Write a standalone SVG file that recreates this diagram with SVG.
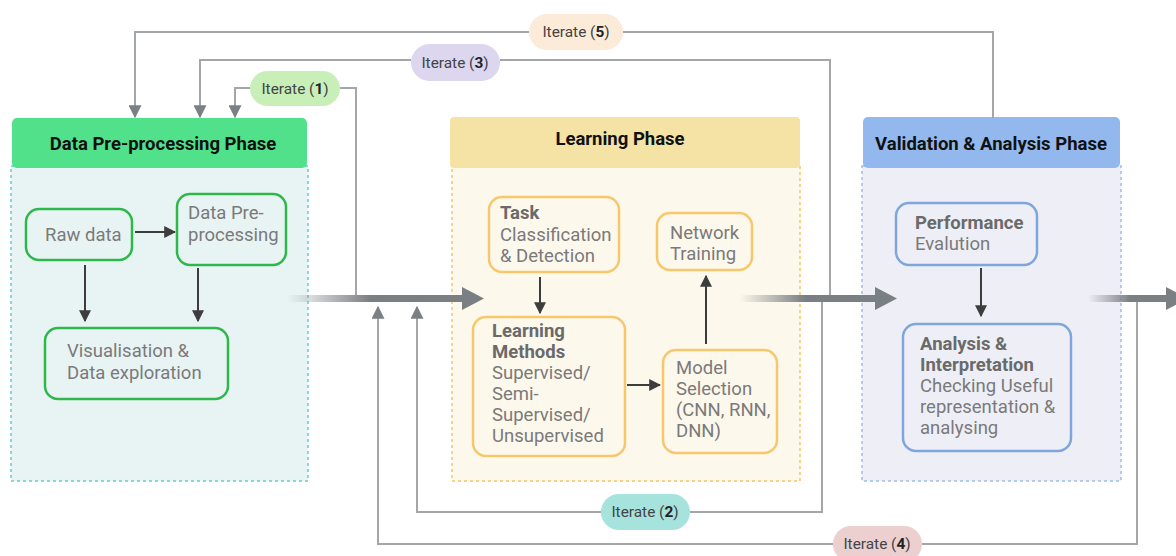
<svg xmlns="http://www.w3.org/2000/svg" width="1176" height="556" viewBox="0 0 1176 556">
  <style>
    text { font-family: Roboto, "Liberation Sans", sans-serif; }
    .head { font-size: 18.5px; font-weight: bold; fill: #111; text-anchor: middle; }
    .node text { font-size: 18.5px; fill: #7a7a7a; }
    .node .b { font-weight: bold; fill: #6a6a6a; }
    .gnode { fill: none; stroke: #2eb84c; stroke-width: 2.5; }
    .onode { fill: none; stroke: #f7c76e; stroke-width: 2.5; }
    .bnode { fill: none; stroke: #7fa6dc; stroke-width: 2.5; }
    .inner { stroke: #3d3d3d; stroke-width: 2; fill: none; marker-end: url(#dark); }
    .loop { stroke: #a3a7aa; stroke-width: 2; fill: none; }
    .loopA { stroke: #a3a7aa; stroke-width: 2; fill: none; marker-end: url(#grey); }
    .pill text { font-size: 15.4px; fill: #444; text-anchor: middle; }
    .pill .n { font-weight: bold; fill: #222; }
    .body { stroke-width: 1.5; stroke-dasharray: 3 3; }
  </style>
  <defs>
    <marker id="dark" viewBox="0 0 10 10" refX="9" refY="5" markerWidth="12" markerHeight="12" markerUnits="userSpaceOnUse" orient="auto">
      <path d="M0,0 L10,5 L0,10 z" fill="#3d3d3d"/>
    </marker>
    <marker id="grey" viewBox="0 0 10 10" refX="9" refY="5" markerWidth="13" markerHeight="13" markerUnits="userSpaceOnUse" orient="auto">
      <path d="M0,0 L10,5 L0,10 z" fill="#7b8085"/>
    </marker>
    <linearGradient id="fade1" gradientUnits="userSpaceOnUse" x1="287" y1="0" x2="370" y2="0">
      <stop offset="0" stop-color="#7a7f83" stop-opacity="0"/>
      <stop offset="1" stop-color="#7a7f83"/>
    </linearGradient>
    <linearGradient id="fade2" gradientUnits="userSpaceOnUse" x1="740" y1="0" x2="805" y2="0">
      <stop offset="0" stop-color="#7a7f83" stop-opacity="0"/>
      <stop offset="1" stop-color="#7a7f83"/>
    </linearGradient>
    <linearGradient id="fade3" gradientUnits="userSpaceOnUse" x1="1088" y1="0" x2="1130" y2="0">
      <stop offset="0" stop-color="#7a7f83" stop-opacity="0"/>
      <stop offset="1" stop-color="#7a7f83"/>
    </linearGradient>
  </defs>

  <rect width="1176" height="556" fill="#ffffff"/>

  <!-- Phase panels -->
  <g id="phase-data">
    <rect class="body" x="11" y="166" width="297" height="315" fill="#e8f4f3" stroke="#5fcfd0"/>
    <rect x="12" y="118" width="295" height="50" rx="5" fill="#50e18a"/>
    <text class="head" x="163" y="150">Data Pre-processing Phase</text>
  </g>
  <g id="phase-learning">
    <rect class="body" x="452" y="166" width="348" height="315" fill="#fdf8ec" stroke="#f9c46b"/>
    <rect x="450" y="117" width="350" height="51" rx="4" fill="#f5e3a6"/>
    <text class="head" x="620" y="145">Learning Phase</text>
  </g>
  <g id="phase-validation">
    <rect class="body" x="862" y="166" width="259" height="315" fill="#eeeff6" stroke="#a3bde8"/>
    <rect x="863" y="117" width="257" height="51" rx="5" fill="#93b8ee"/>
    <text class="head" x="991" y="150">Validation &amp; Analysis Phase</text>
  </g>

  <!-- Connectors -->
  <g id="connectors">
    <!-- main flow -->
    <rect x="287" y="295" width="177" height="7" fill="url(#fade1)"/>
    <path d="M462,287 L484,298.5 L462,310 z" fill="#7a7f83"/>
    <rect x="740" y="295" width="136" height="7" fill="url(#fade2)"/>
    <path d="M875,287 L897,298.5 L875,310 z" fill="#7a7f83"/>
    <rect x="1088" y="295" width="79" height="7" fill="url(#fade3)"/>
    <path d="M1166,287 L1188,298.5 L1166,310 z" fill="#7a7f83"/>

    <!-- inner arrows -->
    <line class="inner" x1="135" y1="232" x2="175" y2="232"/>
    <line class="inner" x1="85" y1="265" x2="85" y2="321"/>
    <line class="inner" x1="198" y1="268" x2="198" y2="321"/>
    <line class="inner" x1="540" y1="277" x2="540" y2="313"/>
    <line class="inner" x1="627" y1="385" x2="660" y2="385"/>
    <line class="inner" x1="706" y1="344" x2="706" y2="276"/>
    <line class="inner" x1="981" y1="268" x2="981" y2="316"/>

    <!-- iterate loops -->
    <polyline class="loop" points="340,88 356,88 356,295"/>
    <polyline class="loopA" points="250,88 235,88 235,117"/>
    <polyline class="loop" points="830,295 830,60 500,60"/>
    <polyline class="loopA" points="411,60 200,60 200,117"/>
    <polyline class="loop" points="993,118 993,32 623,32"/>
    <polyline class="loopA" points="529,32 135,32 135,117"/>
    <polyline class="loop" points="822,302 822,512 690,512"/>
    <polyline class="loopA" points="601,512 417,512 417,307"/>
    <polyline class="loop" points="1137,302 1137,544 922,544"/>
    <polyline class="loopA" points="833,544 378,544 378,307"/>
  </g>

  <!-- Data pre-processing nodes -->
  <g id="raw-data" class="node">
    <rect class="gnode" x="26" y="209" width="106" height="51" rx="13"/>
    <text x="45" y="241">Raw data</text>
  </g>
  <g id="data-preprocessing" class="node">
    <rect class="gnode" x="177" y="194" width="109" height="71" rx="13"/>
    <text x="188" y="219">Data Pre-</text>
    <text x="188" y="241">processing</text>
  </g>
  <g id="visualisation" class="node">
    <rect class="gnode" x="45" y="328" width="183" height="71" rx="13"/>
    <text x="67" y="357">Visualisation &amp;</text>
    <text x="67" y="379">Data exploration</text>
  </g>

  <!-- Learning nodes -->
  <g id="task" class="node">
    <rect class="onode" x="489" y="197" width="130" height="75" rx="13"/>
    <text class="b" x="500" y="219">Task</text>
    <text x="500" y="241">Classification</text>
    <text x="500" y="262">&amp; Detection</text>
  </g>
  <g id="network-training" class="node">
    <rect class="onode" x="657" y="213" width="95" height="57" rx="13"/>
    <text x="670" y="239">Network</text>
    <text x="670" y="260">Training</text>
  </g>
  <g id="learning-methods" class="node">
    <rect class="onode" x="473" y="317" width="152" height="139" rx="13"/>
    <text class="b" x="492" y="337">Learning</text>
    <text class="b" x="492" y="358">Methods</text>
    <text x="492" y="379">Supervised/</text>
    <text x="492" y="400">Semi-</text>
    <text x="492" y="421">Supervised/</text>
    <text x="492" y="442">Unsupervised</text>
  </g>
  <g id="model-selection" class="node">
    <rect class="onode" x="663" y="350" width="114" height="103" rx="13"/>
    <text x="676" y="374">Model</text>
    <text x="676" y="395">Selection</text>
    <text x="676" y="416">(CNN, RNN,</text>
    <text x="676" y="437">DNN)</text>
  </g>

  <!-- Validation nodes -->
  <g id="performance" class="node">
    <rect class="bnode" x="896" y="203" width="141" height="62" rx="13"/>
    <text class="b" x="915" y="229">Performance</text>
    <text x="915" y="250">Evalution</text>
  </g>
  <g id="analysis" class="node">
    <rect class="bnode" x="903" y="324" width="168" height="127" rx="13"/>
    <text class="b" x="920" y="350">Analysis &amp;</text>
    <text class="b" x="920" y="371">Interpretation</text>
    <text x="920" y="392">Checking Useful</text>
    <text x="920" y="413">representation &amp;</text>
    <text x="920" y="434">analysing</text>
  </g>

  <!-- Iterate labels -->
  <g id="iterate-1" class="pill">
    <rect x="250" y="71" width="90" height="35" rx="17.5" fill="#c9efb9"/>
    <text x="295" y="94">Iterate (<tspan class="n">1</tspan>)</text>
  </g>
  <g id="iterate-3" class="pill">
    <rect x="411" y="44" width="89" height="37" rx="18.5" fill="#dcd6ee"/>
    <text x="455" y="68">Iterate (<tspan class="n">3</tspan>)</text>
  </g>
  <g id="iterate-5" class="pill">
    <rect x="529" y="14" width="94" height="36" rx="18" fill="#fdebd9"/>
    <text x="576" y="37">Iterate (<tspan class="n">5</tspan>)</text>
  </g>
  <g id="iterate-2" class="pill">
    <rect x="601" y="494" width="89" height="36" rx="18" fill="#a6e3dc"/>
    <text x="645" y="517">Iterate (<tspan class="n">2</tspan>)</text>
  </g>
  <g id="iterate-4" class="pill">
    <rect x="833" y="526" width="89" height="36" rx="18" fill="#ecd0d0"/>
    <text x="877" y="549">Iterate (<tspan class="n">4</tspan>)</text>
  </g>
</svg>
